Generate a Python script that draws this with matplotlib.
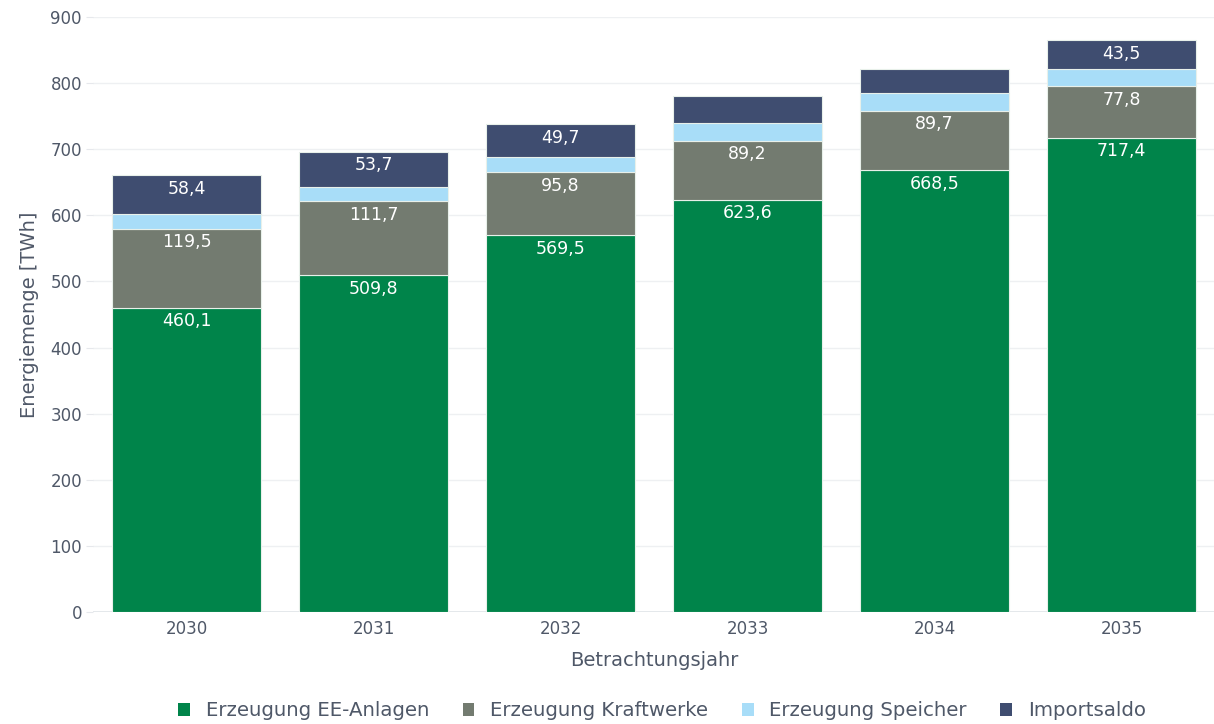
import matplotlib.pyplot as plt
from matplotlib.patches import Patch
import numpy as np

plt.rcParams['font.family'] = ['DejaVu Sans']

years = ['2030', '2031', '2032', '2033', '2034', '2035']
ee_anlagen = [460.1, 509.8, 569.5, 623.6, 668.5, 717.4]
kraftwerke = [119.5, 111.7, 95.8, 89.2, 89.7, 77.8]
speicher = [23.1, 21.2, 23.3, 26.5, 27.4, 26.7]
importsaldo = [58.4, 53.7, 49.7, 41.3, 35.9, 43.5]

series_names = ['Erzeugung EE-Anlagen', 'Erzeugung Kraftwerke',
                'Erzeugung Speicher', 'Importsaldo']
series = [ee_anlagen, kraftwerke, speicher, importsaldo]
colors = ['#00844a', '#737b70', '#a8ddf8', '#3f4d70']
show_labels = [True, True, False, True]
text_color = '#4f5868'

fig = plt.figure(figsize=(12.14, 7.24), dpi=100)
ax = fig.add_axes([93 / 1214, 1 - 612 / 724, 1122 / 1214, 595 / 724])

x = np.arange(len(years))
bottom = np.zeros(len(years))
for name, vals, col, lab in zip(series_names, series, colors, show_labels):
    vals = np.array(vals)
    ax.bar(x, vals, 0.8, bottom=bottom, color=col, edgecolor='#e8f0ea',
           linewidth=0.8, label=name, zorder=3)
    if lab:
        for xi, b, v in zip(x, bottom, vals):
            # plotly hides labels that do not fit the segment
            if v < 42:
                continue
            ax.text(xi, b + v - 7, f'{v:.1f}'.replace('.', ','), ha='center',
                    va='top', color='white', fontsize=12.5, zorder=4)
    bottom += vals

ax.set_xlim(-0.5, len(years) - 0.5)
ax.set_ylim(0, 900)
ax.set_yticks(np.arange(0, 901, 100))
ax.set_xticks(x)
ax.set_xticklabels(years)
ax.grid(axis='y', color='#eef0f2', linewidth=1, zorder=0)
ax.axhline(0, color='#e0e4e8', linewidth=1.2, zorder=2)
for s in ax.spines.values():
    s.set_visible(False)
ax.tick_params(axis='y', length=5, color='#e6e8ec', colors=text_color,
               labelsize=12, pad=3)
ax.tick_params(axis='x', length=0, colors=text_color, labelsize=12, pad=6)
ax.set_ylabel('Energiemenge [TWh]', color=text_color, fontsize=14, labelpad=8)
ax.set_xlabel('Betrachtungsjahr', color=text_color, fontsize=14, labelpad=9)

handles = [Patch(facecolor=c, edgecolor='none') for c in colors]
fig.legend(handles, series_names, loc='center', bbox_to_anchor=(662 / 1214, 1 - 711 / 724),
           ncol=4, frameon=False, fontsize=14.2, handlelength=0.6, handleheight=0.6,
           handletextpad=0.8, columnspacing=1.7, labelcolor=text_color)

fig.savefig('out.png', dpi=100, facecolor='white')
